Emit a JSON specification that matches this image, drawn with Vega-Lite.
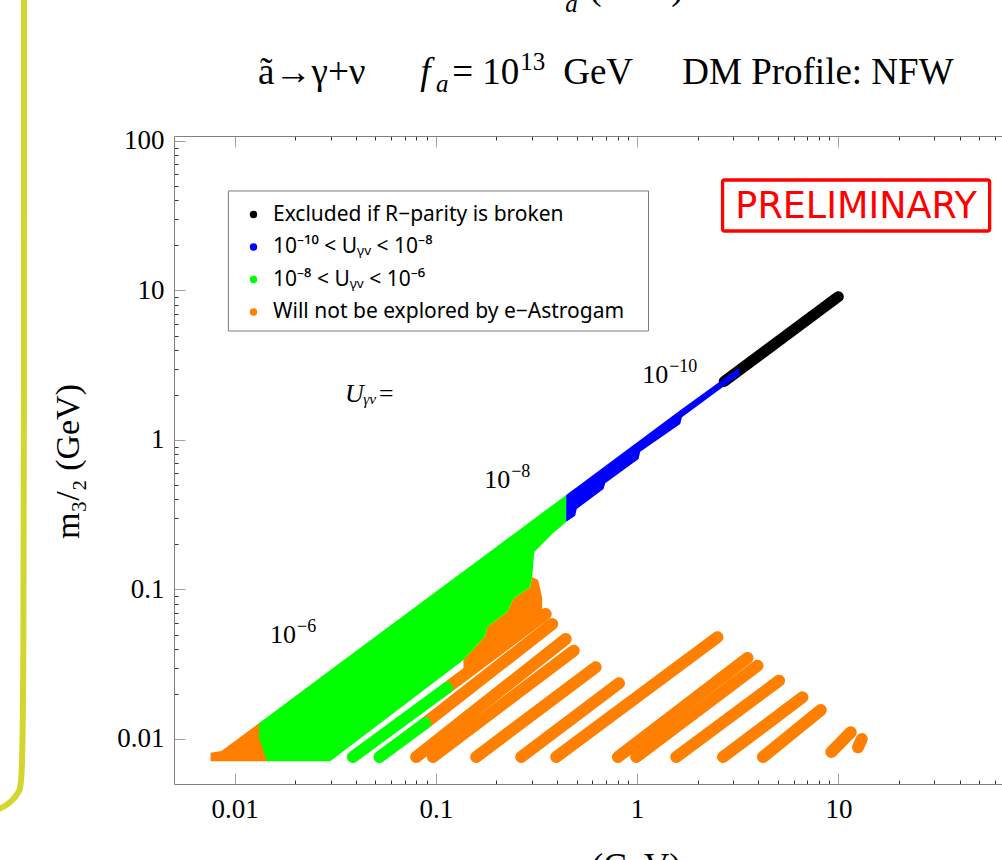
{
 "$schema": "https://vega.github.io/schema/vega-lite/v6.json",
 "width": 828, "height": 648,
 "autosize": {"type": "none"},
 "padding": {"left": 174, "top": 136, "right": 0, "bottom": 76},
 "background": "white",
 "config": {
  "view": {"stroke": null},
  "legend": {"orient": "none", "legendX": 69, "legendY": 68, "symbolType": "circle", "symbolSize": 55, "symbolStrokeWidth": 0, "labelFont": "Noto Sans", "labelFontSize": 21, "labelColor": "#000000", "labelOffset": 9, "rowPadding": 10.5, "padding": 0, "labelLimit": 0, "symbolOpacity": 1}
 },
 "datasets": {
  "deco": [{"i":0,"x":0.000899,"y":1023},{"i":1,"x":0.000899,"y":0.005743},{"i":2,"x":0.000859,"y":0.00442},{"i":3,"x":0.000766,"y":0.003731},{"i":4,"x":0.000683,"y":0.003401},{"i":5,"x":0.000609,"y":0.003249}],
  "legendbox": [{"x":0.009316,"x2":1.1393,"y":46.3,"y2":5.358}],
  "areasA": [
   {"shape":"ot","cat":"Will not be explored by e−Astrogam","x":0.0076,"y":0.0081,"y2":0.0071},
   {"shape":"ot","cat":"Will not be explored by e−Astrogam","x":0.0086,"y":0.0083,"y2":0.0071},
   {"shape":"ot","cat":"Will not be explored by e−Astrogam","x":0.01323,"y":0.01277,"y2":0.0071},
   {"shape":"ot","cat":"Will not be explored by e−Astrogam","x":0.0145,"y":0.0075,"y2":0.0071},
   {"shape":"of","cat":"Will not be explored by e−Astrogam","x":0.1371,"y":0.03376,"y2":0.0268},
   {"shape":"of","cat":"Will not be explored by e−Astrogam","x":0.1758,"y":0.04887,"y2":0.03428},
   {"shape":"of","cat":"Will not be explored by e−Astrogam","x":0.1799,"y":0.05613,"y2":0.03509},
   {"shape":"of","cat":"Will not be explored by e−Astrogam","x":0.2262,"y":0.0707,"y2":0.04406},
   {"shape":"of","cat":"Will not be explored by e−Astrogam","x":0.2422,"y":0.08639,"y2":0.04716},
   {"shape":"of","cat":"Will not be explored by e−Astrogam","x":0.2942,"y":0.1039,"y2":0.05734},
   {"shape":"of","cat":"Will not be explored by e−Astrogam","x":0.3011,"y":0.1213,"y2":0.05877},
   {"shape":"of","cat":"Will not be explored by e−Astrogam","x":0.3224,"y":0.1158,"y2":0.06155},
   {"shape":"of","cat":"Will not be explored by e−Astrogam","x":0.3375,"y":0.08771,"y2":0.06486}
  ],
  "black": [
   {"cat":"Excluded if R−parity is broken","x":2.71,"y":2.466},
   {"cat":"Excluded if R−parity is broken","x":9.99,"y":9.09}
  ],
  "areasB": [
   {"shape":"gm","cat":"10⁻⁸ < Uᵧᵥ < 10⁻⁶","x":0.01323,"y":0.01277,"y2":0.01016},
   {"shape":"gm","cat":"10⁻⁸ < Uᵧᵥ < 10⁻⁶","x":0.0145,"y":0.01399,"y2":0.0071},
   {"shape":"gm","cat":"10⁻⁸ < Uᵧᵥ < 10⁻⁶","x":0.02983,"y":0.02879,"y2":0.0071},
   {"shape":"gm","cat":"10⁻⁸ < Uᵧᵥ < 10⁻⁶","x":0.1371,"y":0.1323,"y2":0.03376},
   {"shape":"gm","cat":"10⁻⁸ < Uᵧᵥ < 10⁻⁶","x":0.1758,"y":0.1696,"y2":0.04887},
   {"shape":"gm","cat":"10⁻⁸ < Uᵧᵥ < 10⁻⁶","x":0.1799,"y":0.1736,"y2":0.05613},
   {"shape":"gm","cat":"10⁻⁸ < Uᵧᵥ < 10⁻⁶","x":0.2262,"y":0.2183,"y2":0.0707},
   {"shape":"gm","cat":"10⁻⁸ < Uᵧᵥ < 10⁻⁶","x":0.2422,"y":0.2337,"y2":0.08639},
   {"shape":"gm","cat":"10⁻⁸ < Uᵧᵥ < 10⁻⁶","x":0.2942,"y":0.2839,"y2":0.1039},
   {"shape":"gm","cat":"10⁻⁸ < Uᵧᵥ < 10⁻⁶","x":0.3011,"y":0.2906,"y2":0.1213},
   {"shape":"gm","cat":"10⁻⁸ < Uᵧᵥ < 10⁻⁶","x":0.3081,"y":0.2973,"y2":0.1781},
   {"shape":"gm","cat":"10⁻⁸ < Uᵧᵥ < 10⁻⁶","x":0.3828,"y":0.3694,"y2":0.2387},
   {"shape":"gm","cat":"10⁻⁸ < Uᵧᵥ < 10⁻⁶","x":0.4443,"y":0.4287,"y2":0.2829},
   {"shape":"bb","cat":"10⁻¹⁰ < Uᵧᵥ < 10⁻⁸","x":0.4443,"y":0.4287,"y2":0.2841},
   {"shape":"bb","cat":"10⁻¹⁰ < Uᵧᵥ < 10⁻⁸","x":0.4924,"y":0.4752,"y2":0.3116},
   {"shape":"bb","cat":"10⁻¹⁰ < Uᵧᵥ < 10⁻⁸","x":0.501,"y":0.4835,"y2":0.3455},
   {"shape":"bb","cat":"10⁻¹⁰ < Uᵧᵥ < 10⁻⁸","x":0.6808,"y":0.657,"y2":0.4702},
   {"shape":"bb","cat":"10⁻¹⁰ < Uᵧᵥ < 10⁻⁸","x":0.6943,"y":0.67,"y2":0.5133},
   {"shape":"bb","cat":"10⁻¹⁰ < Uᵧᵥ < 10⁻⁸","x":1.016,"y":0.9804,"y2":0.7461},
   {"shape":"bb","cat":"10⁻¹⁰ < Uᵧᵥ < 10⁻⁸","x":1.036,"y":0.9997,"y2":0.835},
   {"shape":"bb","cat":"10⁻¹⁰ < Uᵧᵥ < 10⁻⁸","x":1.637,"y":1.58,"y2":1.28},
   {"shape":"bb","cat":"10⁻¹⁰ < Uᵧᵥ < 10⁻⁸","x":1.67,"y":1.612,"y2":1.419},
   {"shape":"bb","cat":"10⁻¹⁰ < Uᵧᵥ < 10⁻⁸","x":3.217,"y":3.05,"y2":2.72}
  ],
  "stripes": [
   {"seg":"s1o","cat":"Will not be explored by e−Astrogam","x":0.1134,"y":0.02194},{"seg":"s1o","cat":"Will not be explored by e−Astrogam","x":0.3513,"y":0.06858},
   {"seg":"s2o","cat":"Will not be explored by e−Astrogam","x":0.08846,"y":0.01274},{"seg":"s2o","cat":"Will not be explored by e−Astrogam","x":0.3785,"y":0.05877},
   {"seg":"o01","cat":"Will not be explored by e−Astrogam","x":0.07981,"y":0.00758},{"seg":"o01","cat":"Will not be explored by e−Astrogam","x":0.4418,"y":0.04665},
   {"seg":"o02","cat":"Will not be explored by e−Astrogam","x":0.09663,"y":0.00758},{"seg":"o02","cat":"Will not be explored by e−Astrogam","x":0.484,"y":0.03897},
   {"seg":"o03","cat":"Will not be explored by e−Astrogam","x":0.1586,"y":0.00758},{"seg":"o03","cat":"Will not be explored by e−Astrogam","x":0.6224,"y":0.03017},
   {"seg":"o04","cat":"Will not be explored by e−Astrogam","x":0.2655,"y":0.00758},{"seg":"o04","cat":"Will not be explored by e−Astrogam","x":0.8128,"y":0.02358},
   {"seg":"o05","cat":"Will not be explored by e−Astrogam","x":0.3962,"y":0.00758},{"seg":"o05","cat":"Will not be explored by e−Astrogam","x":2.506,"y":0.04789},
   {"seg":"o06","cat":"Will not be explored by e−Astrogam","x":0.8027,"y":0.00758},{"seg":"o06","cat":"Will not be explored by e−Astrogam","x":3.533,"y":0.03481},
   {"seg":"o07","cat":"Will not be explored by e−Astrogam","x":0.9897,"y":0.00758},{"seg":"o07","cat":"Will not be explored by e−Astrogam","x":3.962,"y":0.03093},
   {"seg":"o08","cat":"Will not be explored by e−Astrogam","x":1.564,"y":0.00758},{"seg":"o08","cat":"Will not be explored by e−Astrogam","x":5.074,"y":0.02455},
   {"seg":"o09","cat":"Will not be explored by e−Astrogam","x":2.67,"y":0.00758},{"seg":"o09","cat":"Will not be explored by e−Astrogam","x":6.631,"y":0.019},
   {"seg":"o10","cat":"Will not be explored by e−Astrogam","x":4.22,"y":0.00758},{"seg":"o10","cat":"Will not be explored by e−Astrogam","x":8.176,"y":0.01563},
   {"seg":"o11","cat":"Will not be explored by e−Astrogam","x":9.22,"y":0.00818},{"seg":"o11","cat":"Will not be explored by e−Astrogam","x":11.52,"y":0.01109},
   {"seg":"o12","cat":"Will not be explored by e−Astrogam","x":12.52,"y":0.0088},{"seg":"o12","cat":"Will not be explored by e−Astrogam","x":13.07,"y":0.01},
   {"seg":"s1g","cat":"10⁻⁸ < Uᵧᵥ < 10⁻⁶","x":0.03869,"y":0.00758},{"seg":"s1g","cat":"10⁻⁸ < Uᵧᵥ < 10⁻⁶","x":0.1134,"y":0.02194},
   {"seg":"s2g","cat":"10⁻⁸ < Uᵧᵥ < 10⁻⁶","x":0.05245,"y":0.00758},{"seg":"s2g","cat":"10⁻⁸ < Uᵧᵥ < 10⁻⁶","x":0.08846,"y":0.01274}
  ],
  "prelimbox": [{"x":2.658,"x2":56.43,"y":54.84,"y2":25.0}],
  "prelimtext": [{"t":"PRELIMINARY","x":12.24,"y":30.4}],
  "notes": [{"b":"10","s":"−10","x":1.06,"y":2.406},{"b":"10","s":"−8","x":0.1738,"y":0.4775},{"b":"10","s":"−6","x":0.01501,"y":0.04386}],
  "unote": [{"t":"Uᵧᵥ=","x":0.03541,"y":1.796}],
  "ttlUp": [{"t":"ã→γ+ν","x":0.01309,"y":240.6},{"t":"= 10","x":0.1205,"y":240.6},{"t":"GeV","x":0.4292,"y":240.6},{"t":"DM Profile: NFW","x":1.676,"y":240.6},{"t":"(GeV)","x":0.5779,"y":890.7}],
  "ttlIt": [{"t":"f","x":0.08356,"y":240.6},{"t":"m","x":0.305,"y":890.7}],
  "ttlSub": [{"t":"a","x":0.1003,"y":212.7},{"t":"a","x":0.4391,"y":729.3}],
  "ttlSup": [{"t":"13","x":0.2624,"y":298.5}]
 },
 "resolve": {"axis": {"x": "independent", "y": "independent"}},
 "layer": [
  {
   "data": {"name": "deco"},
   "mark": {"type": "line", "color": "#d5d52f", "strokeWidth": 6, "interpolate": "basis", "clip": false},
   "encoding": {
    "x": {"field": "x", "type": "quantitative", "scale": {"type": "log", "domain": [0.005, 65], "nice": false}, "axis": null},
    "y": {"field": "y", "type": "quantitative", "scale": {"type": "log", "domain": [0.005, 108], "nice": false}, "axis": null},
    "order": {"field": "i", "type": "quantitative"}
   }
  },
  {
   "data": {"name": "legendbox"},
   "mark": {"type": "rect", "fill": "#ffffff", "stroke": "#7a7a7a", "strokeWidth": 1},
   "encoding": {
    "x": {"field": "x", "type": "quantitative", "scale": {"type": "log", "domain": [0.005, 65], "nice": false}, "axis": null},
    "x2": {"field": "x2"},
    "y": {"field": "y", "type": "quantitative", "scale": {"type": "log", "domain": [0.005, 108], "nice": false}, "axis": null},
    "y2": {"field": "y2"}
   }
  },
  {
   "data": {"name": "areasA"},
   "mark": {"type": "area", "opacity": 1, "interpolate": "linear"},
   "encoding": {
    "x": {"field": "x", "type": "quantitative", "scale": {"type": "log", "domain": [0.005, 65], "nice": false},
     "axis": {"orient": "bottom", "values": [0.01,0.02,0.03,0.04,0.05,0.06,0.07,0.08,0.09,0.1,0.2,0.3,0.4,0.5,0.6,0.7,0.8,0.9,1,2,3,4,5,6,7,8,9,10,20,30,40,50,60],
      "labelExpr": "abs(log(datum.value)/LN10 - round(log(datum.value)/LN10)) < 0.01 ? format(datum.value, '~g') : ''",
      "labelFont": "Liberation Serif", "labelFontSize": 27, "labelColor": "#000000", "labelPadding": 23, "labelOverlap": false, "labelFlush": false,
      "tickSize": {"condition": {"test": "abs(log(datum.value)/LN10 - round(log(datum.value)/LN10)) < 0.01", "value": -11}, "value": -4},
      "tickColor": {"condition": {"test": "abs(log(datum.value)/LN10 - round(log(datum.value)/LN10)) < 0.01", "value": "#a0a0a0"}, "value": "#333333"},
      "tickWidth": 1, "domainColor": "#808080", "domainWidth": 1, "grid": false,
      "title": "mₐ (GeV)", "titleFont": "Liberation Serif", "titleFontSize": 35, "titleFontWeight": "normal", "titleColor": "#000000", "titleX": 439, "titleY": 93, "titleBaseline": "alphabetic", "titleAlign": "center"}},
    "y": {"field": "y", "type": "quantitative", "stack": null, "scale": {"type": "log", "domain": [0.005, 108], "nice": false},
     "axis": {"orient": "left", "values": [0.01,0.02,0.03,0.04,0.05,0.06,0.07,0.08,0.09,0.1,0.2,0.3,0.4,0.5,0.6,0.7,0.8,0.9,1,2,3,4,5,6,7,8,9,10,20,30,40,50,60,70,80,90,100],
      "labelExpr": "abs(log(datum.value)/LN10 - round(log(datum.value)/LN10)) < 0.01 ? format(datum.value, '~g') : ''",
      "labelFont": "Liberation Serif", "labelFontSize": 27, "labelColor": "#000000", "labelPadding": 21, "labelOverlap": false, "labelFlush": false,
      "tickSize": {"condition": {"test": "abs(log(datum.value)/LN10 - round(log(datum.value)/LN10)) < 0.01", "value": -11}, "value": -4},
      "tickColor": {"condition": {"test": "abs(log(datum.value)/LN10 - round(log(datum.value)/LN10)) < 0.01", "value": "#a0a0a0"}, "value": "#333333"},
      "tickWidth": 1, "domainColor": "#808080", "domainWidth": 1, "grid": false,
      "title": "m₃/₂ (GeV)", "titleFont": "Liberation Serif", "titleFontSize": 34, "titleFontWeight": "normal", "titleColor": "#000000", "titleX": -96, "titleY": 325, "titleBaseline": "alphabetic", "titleAlign": "center", "titleAngle": -90}},
    "y2": {"field": "y2"},
    "fill": {"field": "cat", "type": "nominal",
     "scale": {"domain": ["Excluded if R−parity is broken", "10⁻¹⁰ < Uᵧᵥ < 10⁻⁸", "10⁻⁸ < Uᵧᵥ < 10⁻⁶", "Will not be explored by e−Astrogam"], "range": ["#000000", "#0000ff", "#00ff00", "#ff8000"]},
     "legend": {"title": null}},
    "detail": {"field": "shape", "type": "nominal"}
   }
  },
  {
   "data": {"name": "black"},
   "mark": {"type": "line", "strokeWidth": 11, "strokeCap": "round"},
   "encoding": {
    "x": {"field": "x", "type": "quantitative", "scale": {"type": "log", "domain": [0.005, 65], "nice": false}, "axis": null},
    "y": {"field": "y", "type": "quantitative", "scale": {"type": "log", "domain": [0.005, 108], "nice": false}, "axis": null},
    "stroke": {"field": "cat", "type": "nominal",
     "scale": {"domain": ["Excluded if R−parity is broken", "10⁻¹⁰ < Uᵧᵥ < 10⁻⁸", "10⁻⁸ < Uᵧᵥ < 10⁻⁶", "Will not be explored by e−Astrogam"], "range": ["#000000", "#0000ff", "#00ff00", "#ff8000"]},
     "legend": null}
   }
  },
  {
   "data": {"name": "areasB"},
   "mark": {"type": "area", "opacity": 1, "interpolate": "linear"},
   "encoding": {
    "x": {"field": "x", "type": "quantitative", "scale": {"type": "log", "domain": [0.005, 65], "nice": false}, "axis": null},
    "y": {"field": "y", "type": "quantitative", "stack": null, "scale": {"type": "log", "domain": [0.005, 108], "nice": false}, "axis": null},
    "y2": {"field": "y2"},
    "fill": {"field": "cat", "type": "nominal",
     "scale": {"domain": ["Excluded if R−parity is broken", "10⁻¹⁰ < Uᵧᵥ < 10⁻⁸", "10⁻⁸ < Uᵧᵥ < 10⁻⁶", "Will not be explored by e−Astrogam"], "range": ["#000000", "#0000ff", "#00ff00", "#ff8000"]},
     "legend": {"title": null}},
    "detail": {"field": "shape", "type": "nominal"}
   }
  },
  {
   "data": {"name": "stripes"},
   "mark": {"type": "line", "strokeWidth": 12, "strokeCap": "round"},
   "encoding": {
    "x": {"field": "x", "type": "quantitative", "scale": {"type": "log", "domain": [0.005, 65], "nice": false}, "axis": null},
    "y": {"field": "y", "type": "quantitative", "scale": {"type": "log", "domain": [0.005, 108], "nice": false}, "axis": null},
    "stroke": {"field": "cat", "type": "nominal",
     "scale": {"domain": ["Excluded if R−parity is broken", "10⁻¹⁰ < Uᵧᵥ < 10⁻⁸", "10⁻⁸ < Uᵧᵥ < 10⁻⁶", "Will not be explored by e−Astrogam"], "range": ["#000000", "#0000ff", "#00ff00", "#ff8000"]},
     "legend": null},
    "detail": {"field": "seg", "type": "nominal"}
   }
  },
  {
   "data": {"name": "prelimbox"},
   "mark": {"type": "rect", "fill": null, "fillOpacity": 0, "stroke": "#ff0000", "strokeWidth": 3.3, "cornerRadius": 2},
   "encoding": {
    "x": {"field": "x", "type": "quantitative", "scale": {"type": "log", "domain": [0.005, 65], "nice": false}, "axis": null},
    "x2": {"field": "x2"},
    "y": {"field": "y", "type": "quantitative", "scale": {"type": "log", "domain": [0.005, 108], "nice": false}, "axis": null},
    "y2": {"field": "y2"}
   }
  },
  {
   "data": {"name": "prelimtext"},
   "mark": {"type": "text", "font": "DejaVu Sans", "fontSize": 36.5, "color": "#ff0000", "align": "center", "baseline": "alphabetic"},
   "encoding": {
    "x": {"field": "x", "type": "quantitative", "scale": {"type": "log", "domain": [0.005, 65], "nice": false}, "axis": null},
    "y": {"field": "y", "type": "quantitative", "scale": {"type": "log", "domain": [0.005, 108], "nice": false}, "axis": null},
    "text": {"field": "t"}
   }
  },
  {
   "data": {"name": "notes"},
   "mark": {"type": "text", "font": "Liberation Serif", "fontSize": 26, "color": "#000000", "align": "left", "baseline": "alphabetic"},
   "encoding": {
    "x": {"field": "x", "type": "quantitative", "scale": {"type": "log", "domain": [0.005, 65], "nice": false},
     "axis": {"orient": "top", "values": [0.01,0.02,0.03,0.04,0.05,0.06,0.07,0.08,0.09,0.1,0.2,0.3,0.4,0.5,0.6,0.7,0.8,0.9,1,2,3,4,5,6,7,8,9,10,20,30,40,50,60], "labels": false, "title": null, "grid": false,
      "tickSize": {"condition": {"test": "abs(log(datum.value)/LN10 - round(log(datum.value)/LN10)) < 0.01", "value": -11}, "value": -4},
      "tickColor": {"condition": {"test": "abs(log(datum.value)/LN10 - round(log(datum.value)/LN10)) < 0.01", "value": "#a0a0a0"}, "value": "#333333"},
      "tickWidth": 1, "domainColor": "#808080", "domainWidth": 1}},
    "y": {"field": "y", "type": "quantitative", "scale": {"type": "log", "domain": [0.005, 108], "nice": false}, "axis": null},
    "text": {"field": "b"}
   }
  },
  {
   "data": {"name": "notes"},
   "mark": {"type": "text", "font": "Liberation Serif", "fontSize": 18, "color": "#000000", "align": "left", "baseline": "alphabetic", "dx": 27, "dy": -11},
   "encoding": {
    "x": {"field": "x", "type": "quantitative", "scale": {"type": "log", "domain": [0.005, 65], "nice": false}, "axis": null},
    "y": {"field": "y", "type": "quantitative", "scale": {"type": "log", "domain": [0.005, 108], "nice": false}, "axis": null},
    "text": {"field": "s"}
   }
  },
  {
   "data": {"name": "unote"},
   "mark": {"type": "text", "font": "Liberation Serif", "fontSize": 26, "fontStyle": "italic", "color": "#000000", "align": "left", "baseline": "alphabetic"},
   "encoding": {
    "x": {"field": "x", "type": "quantitative", "scale": {"type": "log", "domain": [0.005, 65], "nice": false}, "axis": null},
    "y": {"field": "y", "type": "quantitative", "scale": {"type": "log", "domain": [0.005, 108], "nice": false}, "axis": null},
    "text": {"field": "t"}
   }
  },
  {
   "data": {"name": "ttlUp"},
   "mark": {"type": "text", "font": "Liberation Serif", "fontSize": 37, "color": "#000000", "align": "left", "baseline": "alphabetic"},
   "encoding": {
    "x": {"field": "x", "type": "quantitative", "scale": {"type": "log", "domain": [0.005, 65], "nice": false}, "axis": null},
    "y": {"field": "y", "type": "quantitative", "scale": {"type": "log", "domain": [0.005, 108], "nice": false}, "axis": null},
    "text": {"field": "t"}
   }
  },
  {
   "data": {"name": "ttlIt"},
   "mark": {"type": "text", "font": "Liberation Serif", "fontSize": 37, "fontStyle": "italic", "color": "#000000", "align": "left", "baseline": "alphabetic"},
   "encoding": {
    "x": {"field": "x", "type": "quantitative", "scale": {"type": "log", "domain": [0.005, 65], "nice": false}, "axis": null},
    "y": {"field": "y", "type": "quantitative", "scale": {"type": "log", "domain": [0.005, 108], "nice": false}, "axis": null},
    "text": {"field": "t"}
   }
  },
  {
   "data": {"name": "ttlSub"},
   "mark": {"type": "text", "font": "Liberation Serif", "fontSize": 25, "fontStyle": "italic", "color": "#000000", "align": "left", "baseline": "alphabetic"},
   "encoding": {
    "x": {"field": "x", "type": "quantitative", "scale": {"type": "log", "domain": [0.005, 65], "nice": false}, "axis": null},
    "y": {"field": "y", "type": "quantitative", "scale": {"type": "log", "domain": [0.005, 108], "nice": false}, "axis": null},
    "text": {"field": "t"}
   }
  },
  {
   "data": {"name": "ttlSup"},
   "mark": {"type": "text", "font": "Liberation Serif", "fontSize": 25, "color": "#000000", "align": "left", "baseline": "alphabetic"},
   "encoding": {
    "x": {"field": "x", "type": "quantitative", "scale": {"type": "log", "domain": [0.005, 65], "nice": false}, "axis": null},
    "y": {"field": "y", "type": "quantitative", "scale": {"type": "log", "domain": [0.005, 108], "nice": false}, "axis": null},
    "text": {"field": "t"}
   }
  }
 ]
}
